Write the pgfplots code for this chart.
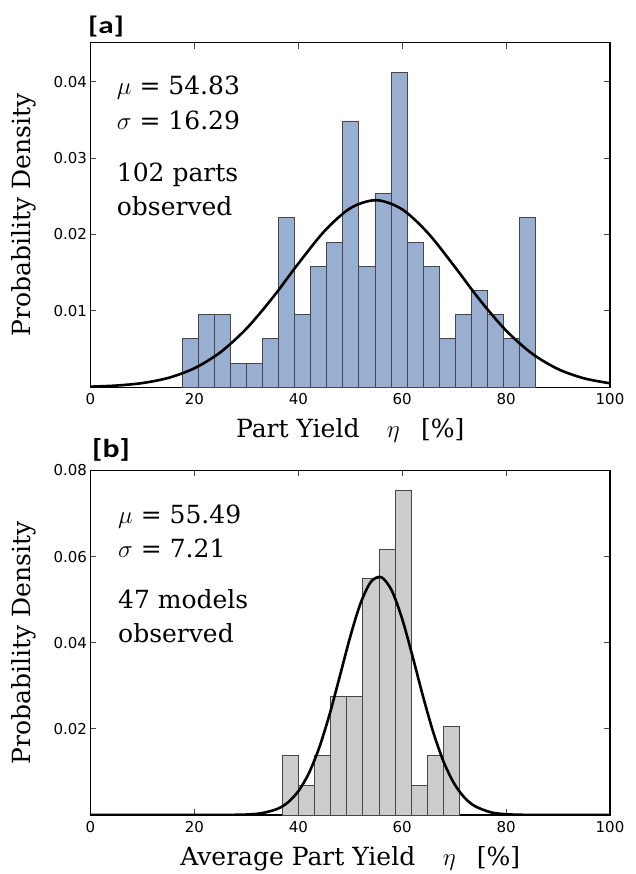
\documentclass[border=0pt]{standalone}
\usepackage{pgfplots}
\usepackage{pgfplotstable}
\pgfplotsset{compat=1.18}
\usepackage{fontspec}
\setmainfont{DejaVu Serif}
\newfontfamily\ticksf{DejaVu Sans}
\newfontfamily\panelf{Carlito}
\definecolor{barblue}{RGB}{152,175,209}
\definecolor{bargrey}{RGB}{204,204,204}
\definecolor{edgec}{RGB}{70,70,70}

\pgfplotstableread{
x y
17.63 0.006337
20.72 0.009506
23.82 0.009506
26.91 0.003169
30.01 0.003169
33.10 0.006337
36.19 0.022180
39.29 0.009506
42.38 0.015843
45.48 0.019012
48.57 0.034855
51.66 0.015843
54.76 0.025349
57.85 0.041192
60.95 0.019012
64.04 0.015843
67.13 0.006337
70.23 0.009506
73.32 0.012674
76.42 0.009506
79.51 0.006337
82.60 0.022180
85.70 0
}\histA

\pgfplotstableread{
x y
36.92 0.013722
40.02 0.006861
43.12 0.013722
46.22 0.027444
49.32 0.027444
52.43 0.054888
55.53 0.061749
58.63 0.075471
61.73 0.006861
64.83 0.013722
67.93 0.020583
71.03 0
}\histB

\pgfplotstableread{
x y
0 0.0000848
5 0.0002275
10 0.000555
15 0.001233
20 0.002490
25 0.004579
30 0.007666
35 0.011672
40 0.016183
45 0.020413
50 0.023437
55 0.024490
60 0.023287
65 0.020153
70 0.015874
75 0.011378
80 0.007423
85 0.004406
90 0.002381
95 0.001171
100 0.000524
}\fitA

\pgfplotstableread{
x y
0 0
20 0.0000003
25 0.0000072
30 0.000107
33 0.000427
36 0.001432
38 0.002919
40 0.005504
42 0.009612
44 0.015541
46 0.023269
48 0.032257
50 0.041406
52 0.049213
54 0.054161
56 0.055192
58 0.052077
60 0.045498
62 0.036808
64 0.027571
66 0.019124
68 0.012282
70 0.007303
72 0.004020
74 0.002050
77 0.000646
80 0.000171
85 0.000013
90 0.0000002
100 0
}\fitB

\pgfplotsset{
  mystyle/.style={
    scale only axis, width=519.5pt, height=344.6pt,
    xmin=0, xmax=100, ymin=0,
    xtick={0,20,40,60,80,100},
    scaled y ticks=false, scaled x ticks=false,
    /pgf/number format/assume math mode=true,
    tick align=inside, major tick length=6pt,
    every tick/.style={edgec, line width=0.8pt},
    axis line style={line width=1.2pt, black},
    tick label style={font=\ticksf\fontsize{15}{15}\selectfont},
    xticklabel style={yshift=-3pt},
    label style={font=\fontsize{25}{29}\selectfont},
    xlabel style={at={(axis description cs:0.5,0)}, anchor=base, yshift=-50pt},
    ylabel style={at={([xshift=-54.5pt]axis description cs:0,0.5)}, anchor=south, inner sep=0pt},
    clip=true,
  }
}

\begin{document}
\begin{tikzpicture}
\path (0,0) rectangle (635pt,874pt);

\begin{axis}[mystyle, at={(90.5pt,486.7pt)}, anchor=south west,
  ymax=0.0451,
  ytick={0.01,0.02,0.03,0.04}, yticklabels={0.01,0.02,0.03,0.04},
  xlabel={Part Yield\hspace{1.1em}$\eta$\hspace{0.85em}[\%]},
  ylabel={Probability Density}]
\addplot[ybar interval, fill=barblue, draw=edgec, line width=0.8pt] table {\histA};
\addplot[black, line width=2.6pt, smooth] table {\fitA};
\end{axis}

\begin{axis}[mystyle, at={(90.5pt,59pt)}, anchor=south west,
  ymax=0.08,
  ytick={0.02,0.04,0.06,0.08}, yticklabels={0.02,0.04,0.06,0.08},
  xlabel={Average Part Yield\hspace{1.1em}$\eta$\hspace{0.85em}[\%]},
  ylabel={Probability Density}]
\addplot[ybar interval, fill=bargrey, draw=edgec, line width=0.8pt] table {\histB};
\addplot[black, line width=2.6pt, smooth] table {\fitB};
\end{axis}

\begin{scope}[every node/.style={anchor=base west, inner sep=0pt, font=\fontsize{25}{30}\selectfont}]
\node at (116.7pt,779pt) {$\mu$ = 54.83};
\node at (116.7pt,744pt) {$\sigma$ = 16.29};
\node at (116.7pt,692.3pt) {102 parts};
\node at (116.7pt,658.3pt) {observed};
\node at (118pt,350.7pt) {$\mu$ = 55.49};
\node at (118pt,316.7pt) {$\sigma$ = 7.21};
\node at (118pt,265.7pt) {47 models};
\node at (118pt,231.3pt) {observed};
\end{scope}

\node[anchor=base west, inner sep=0pt, font=\panelf\bfseries\fontsize{24}{28}\selectfont] at (88pt,840.7pt) {\scalebox{1.3}[1]{[a]}};
\node[anchor=base west, inner sep=0pt, font=\panelf\bfseries\fontsize{26}{30}\selectfont] at (92pt,416.4pt) {\scalebox{1.22}[1]{[b]}};
\end{tikzpicture}
\end{document}
